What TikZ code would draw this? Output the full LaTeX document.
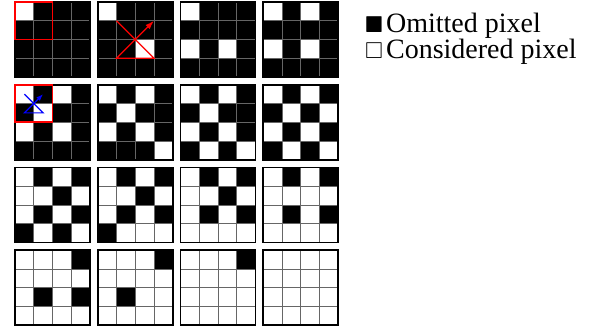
\documentclass[tikz,border=0pt]{standalone}
\usepackage{amssymb}
\usepackage{fontspec}
\setmainfont{Liberation Serif}
\usetikzlibrary{arrows.meta}

\begin{document}
\begin{tikzpicture}[x=1pt, y=-1pt,
  pix/.style={rectangle, draw=black!60, line width=0.8pt, minimum size=18.75pt, inner sep=0pt, outer sep=0pt, anchor=north west},
  panel/.style={draw=black, line width=1.6pt},
  redbox/.style={draw=red, line width=1.6pt},
  scanred/.style={red, line width=1.3pt, -{Latex[length=9pt, width=6pt]}},
  scanblue/.style={blue, line width=1.2pt, -{Latex[length=7pt, width=5pt]}},
  legend/.style={anchor=north west, inner sep=0pt, align=left, font=\fontsize{28}{23.5}\selectfont}
]
  \useasboundingbox (0,0) rectangle (605,330);

  % Panels
  \foreach \k/\pat in {
      1/{0,1,1,1, 1,1,1,1, 1,1,1,1, 1,1,1,1},
      2/{0,1,1,1, 1,1,1,1, 1,1,0,1, 1,1,1,1},
      3/{0,1,1,1, 1,1,1,1, 0,1,0,1, 1,1,1,1},
      4/{0,1,0,1, 1,1,1,1, 0,1,0,1, 1,1,1,1},
      5/{0,1,0,1, 1,0,1,1, 0,1,0,1, 1,1,1,1},
      6/{0,1,0,1, 1,0,1,1, 0,1,0,1, 1,1,1,0},
      7/{0,1,0,1, 1,0,1,1, 0,1,0,1, 1,0,1,0},
      8/{0,1,0,1, 1,0,1,0, 0,1,0,1, 1,0,1,0},
      9/{0,1,0,1, 0,0,1,0, 0,1,0,1, 1,0,1,0},
      10/{0,1,0,1, 0,0,1,0, 0,1,0,1, 1,0,0,0},
      11/{0,1,0,1, 0,0,1,0, 0,1,0,1, 0,0,0,0},
      12/{0,1,0,1, 0,0,0,0, 0,1,0,1, 0,0,0,0},
      13/{0,0,0,1, 0,0,0,0, 0,1,0,1, 0,0,0,0},
      14/{0,0,0,1, 0,0,0,0, 0,1,0,0, 0,0,0,0},
      15/{0,0,0,1, 0,0,0,0, 0,0,0,0, 0,0,0,0},
      16/{0,0,0,0, 0,0,0,0, 0,0,0,0, 0,0,0,0}} {
    \pgfmathsetmacro\px{15+82.75*mod(\k-1,4)}
    \pgfmathsetmacro\py{2+82.75*floor((\k-1)/4)}
    \foreach \v [count=\n from 0] in \pat {
      \pgfmathtruncatemacro\r{floor(\n/4)+1}
      \pgfmathtruncatemacro\c{mod(\n,4)+1}
      \ifnum\v=1 \def\col{black}\else\def\col{white}\fi
      \node[pix, fill=\col] (p\k-\r-\c) at (\px+18.75*\c-18.75, \py+18.75*\r-18.75) {};
    }
    \draw[panel] (p\k-1-1.north west) rectangle (p\k-4-4.south east);
  }

  % Windows
  \draw[redbox] (p1-1-1.north west) rectangle (p1-2-2.south east);
  \draw[redbox] (p5-1-1.north west) rectangle (p5-2-2.south east);

  % Scan paths
  \draw[scanred] (p2-2-2.north west) -- (p2-3-3.south east) -- (p2-3-2.south west) -- (p2-2-3.north east);
  \draw[scanblue] (p5-1-1.center) -- (p5-2-2.center) -- (p5-2-1.center) -- (p5-1-2.center);

  % Legend
  \node[legend] (legend) at (365,12.5)
    {{\fontsize{23}{20}\selectfont$\blacksquare$}\hspace{3pt}Omitted pixel\\
     {\fontsize{23}{20}\selectfont$\square$}\hspace{3pt}Considered pixel};
\end{tikzpicture}
\end{document}
